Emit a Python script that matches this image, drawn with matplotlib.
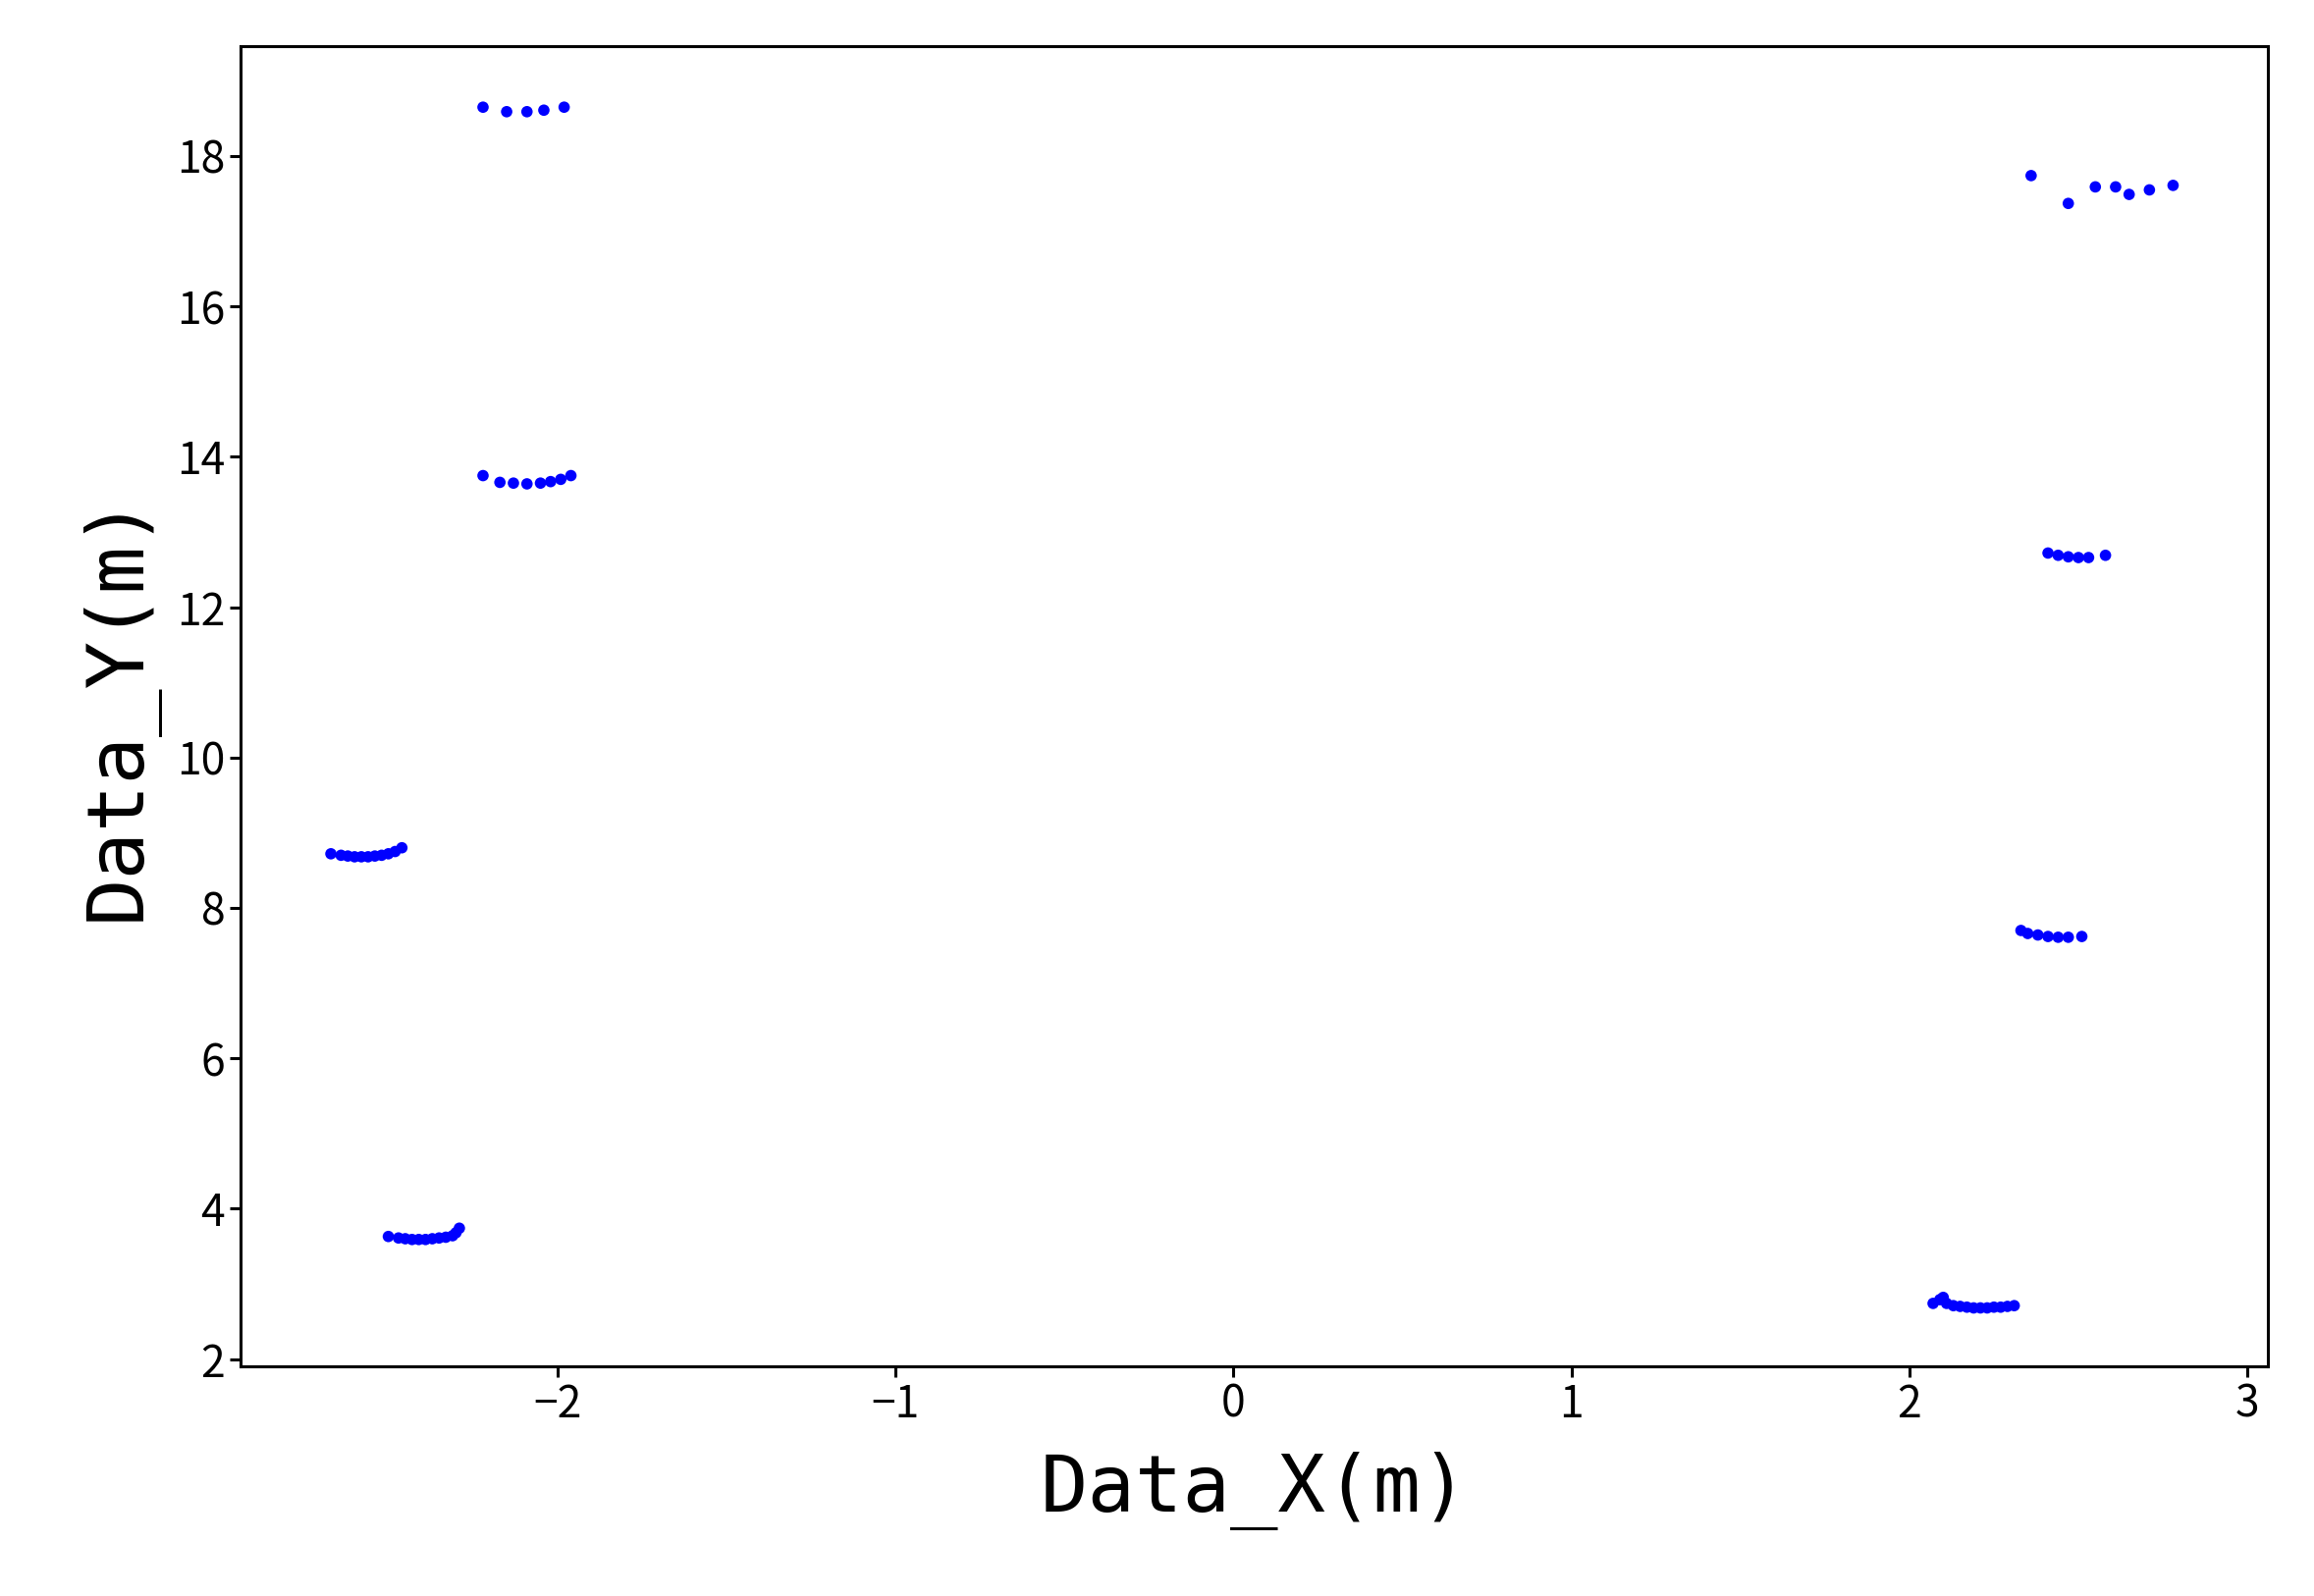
import numpy as np
import matplotlib
matplotlib.use("Agg")
import matplotlib.pyplot as plt

plt.rcParams['font.family'] = ['Noto Sans CJK SC', 'DejaVu Sans']

# scan points, grouped by cluster
x_a = [-2.50, -2.47, -2.45, -2.43, -2.41, -2.39, -2.37, -2.35, -2.33, -2.31, -2.30, -2.29]
y_a = [3.63, 3.61, 3.60, 3.59, 3.59, 3.59, 3.60, 3.61, 3.62, 3.64, 3.68, 3.74]
x_b = [-2.67, -2.64, -2.62, -2.60, -2.58, -2.56, -2.54, -2.52, -2.50, -2.48, -2.46]
y_b = [8.72, 8.70, 8.69, 8.68, 8.68, 8.68, 8.69, 8.70, 8.72, 8.75, 8.80]
x_c = [-2.22, -2.17, -2.13, -2.09, -2.05, -2.02, -1.99, -1.96]
y_c = [13.75, 13.66, 13.65, 13.64, 13.65, 13.67, 13.70, 13.75]
x_d = [-2.22, -2.15, -2.09, -2.04, -1.98]
y_d = [18.65, 18.59, 18.59, 18.61, 18.65]
x_e = [2.07, 2.09, 2.10, 2.11, 2.13, 2.15, 2.17, 2.19, 2.21, 2.23, 2.25, 2.27, 2.29, 2.31]
y_e = [2.74, 2.79, 2.82, 2.74, 2.71, 2.70, 2.69, 2.68, 2.68, 2.68, 2.69, 2.69, 2.70, 2.71]
x_f = [2.33, 2.35, 2.38, 2.41, 2.44, 2.47, 2.51]
y_f = [7.70, 7.66, 7.64, 7.62, 7.61, 7.61, 7.62]
x_g = [2.41, 2.44, 2.47, 2.50, 2.53, 2.58]
y_g = [12.72, 12.69, 12.67, 12.66, 12.66, 12.69]
x_h = [2.36, 2.47, 2.55, 2.61, 2.65, 2.71, 2.78]
y_h = [17.74, 17.37, 17.59, 17.59, 17.49, 17.55, 17.61]

xs = x_a + x_b + x_c + x_d + x_e + x_f + x_g + x_h
ys = y_a + y_b + y_c + y_d + y_e + y_f + y_g + y_h

fig = plt.figure(figsize=(23.57, 16.26), dpi=100)
ax = fig.add_axes([0.104, 0.144, 0.876, 0.827])
ax.scatter(xs, ys, s=70, c='blue', edgecolors='none')
ax.set_xlim(-2.937, 3.06)
ax.set_ylim(1.905, 19.46)
ax.set_xticks([-2, -1, 0, 1, 2, 3])
ax.set_xticklabels(['\u22122', '\u22121', '0', '1', '2', '3'])
ax.set_yticks([2, 4, 6, 8, 10, 12, 14, 16, 18])
ax.tick_params(labelsize=32, width=2.2, length=8, direction='out')
for s in ax.spines.values():
    s.set_linewidth(2.2)
ax.set_xlabel('Data_X(m)', fontsize=58, family=['DejaVu Sans Mono'], labelpad=18)
ax.set_ylabel('Data_Y(m)', fontsize=58, family=['DejaVu Sans Mono'], labelpad=14)
fig.savefig('out.png', dpi=100)
